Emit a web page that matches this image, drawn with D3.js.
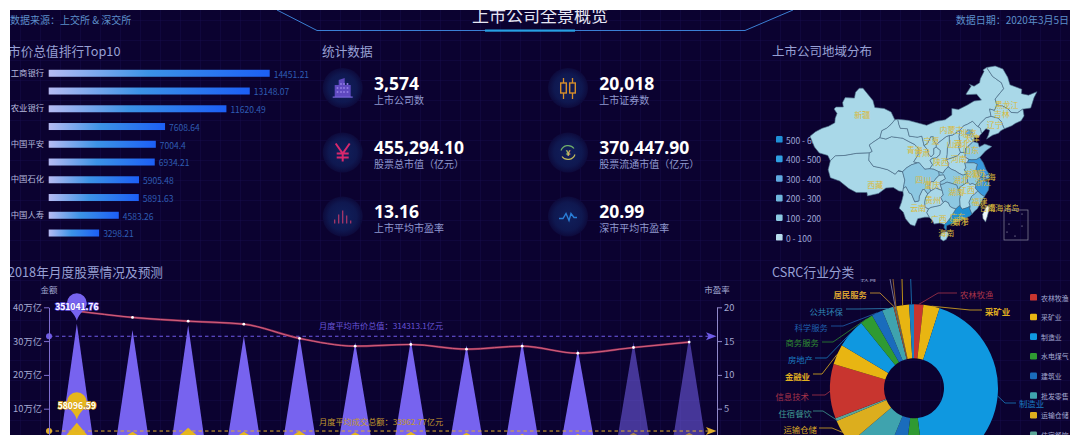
<!DOCTYPE html>
<html><head><meta charset="utf-8">
<script src="https://cdnjs.cloudflare.com/ajax/libs/d3/7.8.5/d3.min.js"></script>
<style>html,body{margin:0;padding:0;background:#fff;overflow:hidden}svg{display:block}
text{font-family:"Noto Sans CJK SC","Noto Sans",sans-serif}</style></head><body><svg id="c" width="1080" height="445"></svg>
<script>
// ---------- data ----------
const barCats=["工商银行","建设银行","农业银行","中国银行","中国平安","贵州茅台","中国石化","招商银行","中国人寿","中国石油"];
const barVals=[14451.21,13148.07,11620.49,7608.64,7004.4,6934.21,5905.48,5891.63,4583.26,3298.21];
const barTickCats=["工商银行","农业银行","中国平安","中国石化","中国人寿"];
const statVals=["3,574","20,018","455,294.10","370,447.90","13.16","20.99"];
const statLabels=["上市公司数","上市证券数","股票总市值\uFF08亿元\uFF09","股票流通市值\uFF08亿元\uFF09","上市平均市盈率","深市平均市盈率"];
const months=["1月","2月","3月","4月","5月","6月","7月","8月","9月","10月","11月","12月"];
const priceVals=[351041.76,333000,347000,315000,314000,296000,303000,288000,298000,275000,297000,313000];
const volumeVals=[58096.59,32000,44000,32000,35000,30000,32000,29000,25500,25500,29000,29000];
const peVals=[19.45,18.5,17.95,17.5,15.4,14.25,14.5,13.8,14.25,13.2,14.05,14.85];
const predictedFrom=10;
const priceMean=314313.1, volumeMean=33962.77;
const leftTicks=[100000,200000,300000,400000], rightTicks=[5,10,15,20];
const pieCats=["农林牧渔","采矿业","制造业","水电煤气","建筑业","批发零售","运输仓储","住宿餐饮","信息技术","金融业","房地产","商务服务","科学服务","公共环保","居民服务","教育","卫生","文化传媒","综合"];
const pieVals=[64,112,1540,143,151,270,173,20,375,138,202,89,77,79,10,5,5,88,33];
const legendCats=["农林牧渔","采矿业","制造业","水电煤气","建筑业","批发零售","运输仓储","住宿餐饮"];
const mapLegend=["500 - 600","400 - 500","300 - 400","200 - 300","100 - 200","0 - 100"];
const provinceCount={"广东":590,"浙江":450,"江苏":410,"北京":340,"上海":290,"山东":190,"福建":130,"四川":120,"湖南":105,"湖北":103,"安徽":102,"河南":80,"辽宁":72,"河北":56,"陕西":47,"新疆":50,"重庆":50,"天津":50,"吉林":41,"江西":40,"山西":38,"黑龙江":37,"云南":35,"广西":37,"甘肃":33,"内蒙古":25,"海南":30,"贵州":29,"西藏":18,"宁夏":13,"青海":12,"台湾":0,"香港":0,"澳门":0};
const provinceCapitals={"北京":[116.4,40.2],"天津":[117.2,39.1],"河北":[114.5,38],"山西":[112.5,37.9],"内蒙古":[111.7,40.8],"辽宁":[123.4,41.8],"吉林":[125.3,43.9],"黑龙江":[126.6,45.8],"上海":[121.5,31.2],"江苏":[118.8,32],"浙江":[120.2,30.3],"安徽":[117.3,31.9],"福建":[119.3,26.1],"江西":[115.9,28.7],"山东":[117,36.7],"河南":[113.7,34.8],"湖北":[114.3,30.6],"湖南":[113,28.2],"广东":[113.3,23.1],"广西":[108.3,22.8],"海南":[110.3,20],"重庆":[106.5,29.6],"四川":[104.1,30.7],"贵州":[106.7,26.6],"云南":[102.7,25],"西藏":[91.1,29.6],"陕西":[108.9,34.3],"甘肃":[103.8,36.1],"青海":[101.8,36.6],"宁夏":[106.3,38.5],"新疆":[87.6,43.8],"台湾":[121.5,25],"香港":[114.2,22.3],"澳门":[113.5,22.2],"南海诸岛":[125.7,25]};
const provinceShapes={
"新疆":[[73.5,39.4],[75,40.3],[76.8,41],[78.5,41.4],[80.2,42.1],[80.3,43],[80.8,44],[80,44.9],[80.5,45.3],[82.5,45.3],[82.3,46.2],[83,47.2],[85.5,47.1],[85.8,48.3],[86.8,49.1],[87.8,49.1],[89,48],[90.5,46.6],[91,45.2],[93.5,45],[95.4,44.3],[96.4,42.7],[95.4,41.8],[94.2,41],[92.9,40.5],[92.4,39.1],[90.6,38.2],[89.5,37.6],[90.3,36.3],[89.5,36],[86,35.9],[83,35.5],[80.3,35.4],[79,34.4],[78.3,35.5],[76,36],[74.7,37.2]],
"西藏":[[78.4,32.6],[79,34.4],[80.3,35.4],[83,35.5],[86,35.9],[89.5,36],[89.4,34.5],[90.6,33.3],[92.5,33],[94.5,32.6],[96.5,31.7],[97.3,32.4],[98.5,32.2],[99.1,30.5],[98.7,28.8],[98.6,28.2],[97.5,28.3],[96,29],[94,28.9],[92,27.8],[89,27.3],[88.9,28],[86,28],[84,28.8],[81.5,30.3],[79,31]],
"青海":[[89.5,36],[90.3,36.3],[89.5,37.6],[90.6,38.2],[92.4,39.1],[94,38.8],[95.5,39.3],[97.3,39.1],[98.5,39],[100.2,38.3],[101.8,37.7],[102.8,36.9],[102.7,35.6],[101.5,34.2],[102.6,34],[100.9,33.6],[99.6,33],[98.5,32.2],[97.3,32.4],[96.5,31.7],[94.5,32.6],[92.5,33],[90.6,33.3],[89.4,34.5]],
"甘肃":[[92.4,39.1],[92.9,40.5],[94.2,41],[95.4,41.8],[96.4,42.7],[97.2,42.8],[97.5,41.8],[97.9,41],[99.8,40.9],[100.3,39.4],[102.5,39.2],[103.7,39.4],[104.3,37.5],[105.2,36.7],[105.5,35.8],[106.2,35.2],[106.9,35.8],[106.9,36.9],[107.6,37.2],[108.7,36.5],[108.6,35.7],[107.6,35],[106.5,34.9],[105.9,34.5],[106.6,33.6],[105.8,32.8],[104.5,32.7],[103,34],[102.6,34],[101.5,34.2],[102.7,35.6],[102.8,36.9],[101.8,37.7],[100.2,38.3],[98.5,39],[97.3,39.1],[95.5,39.3],[94,38.8]],
"宁夏":[[106.1,39.3],[105.3,38],[104.3,37.5],[105.2,36.7],[105.5,35.8],[106.2,35.2],[106.9,35.8],[106.9,36.9],[107.6,37.2],[107.6,37.7],[106.8,38.7],[106.8,39.3]],
"内蒙古":[[97.2,42.8],[100,42.6],[102,42.2],[105,41.6],[107.5,42.4],[110,42.7],[111.8,43.7],[111.8,45],[113.6,44.8],[116,45.7],[117.8,46.5],[119.8,46.7],[118.5,47.9],[116,47.8],[115.6,47.9],[117,49.5],[116.5,49.9],[117.8,49.5],[119.3,50.2],[119.5,51],[120.5,52.5],[120.2,52.8],[121.2,53.3],[122.8,51.5],[125.2,50.2],[125.8,49],[124.9,48.2],[123.5,46.9],[124,45.7],[123.3,44.6],[122,44.9],[122.4,43.4],[121,43.1],[119.5,42],[118.9,41.3],[118.5,41.5],[117.4,42.4],[116,41.8],[115,41.5],[114,40.6],[112,39.6],[111.1,39.5],[110.3,39.3],[108.6,38.3],[107.6,37.7],[106.8,38.7],[106.8,39.3],[106.1,39.3],[105.3,38],[104.3,37.5],[103.7,39.4],[102.5,39.2],[100.3,39.4],[99.8,40.9],[97.9,41],[97.5,41.8]],
"黑龙江":[[121.2,53.3],[123.5,53.6],[125.6,53],[126.9,51.3],[127.5,49.8],[130.7,48.9],[130.6,48],[132.5,47.7],[134.8,48.4],[134,47.2],[133.1,45.1],[131.3,44.9],[131,44.9],[129.5,44.1],[127.8,44.2],[127,44.9],[125.5,45.5],[124,45.7],[123.5,46.9],[124.9,48.2],[125.8,49],[125.2,50.2],[122.8,51.5]],
"吉林":[[124,45.7],[125.5,45.5],[127,44.9],[127.8,44.2],[129.5,44.1],[131,44.9],[131.3,43.5],[130.5,42.5],[129,42],[128,41.5],[126,40.9],[125.7,41.3],[125.2,42.3],[124.4,43],[122.4,43.4],[122,44.9],[123.3,44.6]],
"辽宁":[[119.5,42],[121,43.1],[122.4,43.4],[124.4,43],[125.2,42.3],[125.7,41.3],[126,40.9],[125,40.5],[124.4,40],[122.8,39.6],[121.2,38.8],[121.7,39.7],[122,40.6],[121,40.9],[119.8,39.9],[119.5,41],[118.9,41.3]],
"河北":[[119.8,39.9],[118.9,39.2],[117.8,39.2],[117.8,38.5],[117.5,38.3],[116.9,37.8],[115.5,36.9],[115.4,36.1],[114.1,36.1],[113.6,37.2],[114,38],[113.7,39.3],[114,40.6],[115,41.5],[116,41.8],[117.4,42.4],[118.5,41.5],[118.9,41.3],[119.5,41]],
"北京":[[115.5,39.8],[116,40.7],[117.3,40.6],[117,39.8],[116.4,39.5]],
"天津":[[117.3,40.2],[117.8,39.2],[117.8,38.5],[117,38.8],[117,39.8]],
"山西":[[114,40.6],[113.7,39.3],[114,38],[113.6,37.2],[114.1,36.1],[113.5,35.5],[112.2,35.1],[110.3,34.6],[110.5,35.7],[110.6,37],[111.1,38],[111.1,39.5],[112,39.6]],
"陕西":[[111.1,39.5],[111.1,38],[110.6,37],[110.5,35.7],[110.3,34.6],[111,33.9],[110.8,33.2],[110,32.6],[109.4,31.9],[108.3,32.2],[106.9,32.7],[105.8,32.8],[106.6,33.6],[105.9,34.5],[106.5,34.9],[107.6,35],[108.6,35.7],[108.7,36.5],[107.6,37.2],[107.6,37.7],[108.6,38.3],[110.3,39.3]],
"山东":[[115.5,36.9],[116.9,37.8],[117.5,38.3],[118.9,38],[119.2,37.2],[120.7,37.8],[122.6,37.3],[120.9,36.4],[119.3,35.1],[118.5,34.7],[117.2,34.6],[116.4,34.7],[115.3,35.2],[115.4,36.1]],
"河南":[[114.1,36.1],[115.4,36.1],[115.3,35.2],[116.4,34.7],[116,34],[115.3,34],[115.6,33],[115.2,32.6],[115.9,31.8],[114.8,31.5],[113.7,31.9],[112.7,32.4],[111.7,32.7],[110.8,33.2],[111,33.9],[110.3,34.6],[112.2,35.1],[113.5,35.5]],
"江苏":[[116.4,34.7],[117.2,34.6],[118.5,34.7],[119.3,35.1],[120.3,34],[121,32.7],[121.9,31.7],[121,31.5],[120.9,31.1],[120.5,30.9],[119.6,31.1],[119,31.3],[118.8,32],[118.3,32.7],[118.7,33.7],[117.8,34],[116.9,34],[116,34]],
"安徽":[[116,34],[116.9,34],[117.8,34],[118.7,33.7],[118.3,32.7],[118.8,32],[119,31.3],[119.6,31.1],[118.9,30.3],[118.3,29.5],[117.3,29.8],[116.7,29.6],[116,30.1],[115.9,31.1],[115.9,31.8],[115.2,32.6],[115.6,33],[115.3,34]],
"上海":[[121,31.5],[121.9,31.7],[121.9,30.9],[121,30.7],[120.9,31.1]],
"浙江":[[119.6,31.1],[120.5,30.9],[120.9,31.1],[121,30.7],[120.3,30.4],[122,30],[121.7,28.5],[120.6,27.2],[119.7,27.6],[118.8,28.3],[118.1,28.9],[118.3,29.5],[118.9,30.3]],
"福建":[[118.8,28.3],[119.7,27.6],[120.6,27.2],[119.6,25.9],[118.7,24.7],[117.9,24.2],[117.2,23.6],[116.6,24.7],[116.7,25.2],[116.4,26],[117.1,27.2],[117.9,27.7]],
"江西":[[118.1,28.9],[118.8,28.3],[117.9,27.7],[117.1,27.2],[116.4,26],[116.7,25.2],[115.9,24.9],[114.6,24.6],[114,25.2],[113.9,26.6],[114.1,27.5],[113.6,28.5],[114,29.1],[115,29.6],[116,30.1],[116.7,29.6],[117.3,29.8],[118.3,29.5]],
"广东":[[116.6,24.7],[117.2,23.6],[116.6,23.2],[115,22.7],[113.6,22.2],[112,21.7],[110.4,21.3],[110.3,20.3],[109.7,20.9],[109.8,21.5],[110.7,22.2],[111.5,23],[112,23.6],[112.9,24.7],[113.9,25.4],[114,25.2],[114.6,24.6],[115.9,24.9],[116.7,25.2]],
"广西":[[112.9,24.7],[112,23.6],[111.5,23],[110.7,22.2],[109.8,21.5],[108.5,21.8],[107,21.6],[106.6,22.3],[105.7,23],[105,23.9],[105.5,24.7],[106.2,25],[107.5,25.2],[108.7,25.4],[109.5,26],[110,26.3],[110.9,25.9],[111.3,25.2],[112,24.9]],
"云南":[[105.5,24.7],[105,23.9],[105.7,23],[104.5,23],[102.6,22.7],[101.8,21.2],[100.6,21.5],[99.3,22.7],[98.7,24],[97.6,24.8],[98.2,26],[98.7,27.5],[98.6,28.2],[98.7,28.8],[99.4,29.2],[100.3,27.9],[100.9,27.7],[101.8,26.1],[102.9,26.3],[103,27.2],[103.9,28.6],[104.4,28.6],[105.3,27.7],[104.7,26.9],[104.5,26],[104.6,25]],
"四川":[[97.3,32.4],[98.5,32.2],[99.1,30.5],[98.7,28.8],[99.4,29.2],[100.3,27.9],[100.9,27.7],[101.8,26.1],[102.9,26.3],[103,27.2],[103.9,28.6],[104.4,28.6],[105.3,27.7],[106.1,28.3],[105.6,29.3],[106.2,30.2],[106.9,30.2],[107.6,30.9],[108.4,31.5],[108.3,32.2],[106.9,32.7],[105.8,32.8],[104.5,32.7],[103,34],[102.6,34],[100.9,33.6],[99.6,33],[98.5,32.2]],
"重庆":[[105.6,29.3],[106.1,28.3],[107.5,28.9],[108.4,28.6],[109.2,28.4],[108.7,29.6],[108.6,30.1],[110.1,30.8],[109.6,31.6],[108.4,31.5],[107.6,30.9],[106.9,30.2],[106.2,30.2]],
"贵州":[[105.3,27.7],[106.1,28.3],[107.5,28.9],[108.4,28.6],[109.2,28.4],[109.5,27.5],[108.8,27],[109.5,26],[108.7,25.4],[107.5,25.2],[106.2,25],[105.5,24.7],[104.6,25],[104.5,26],[104.7,26.9]],
"湖北":[[108.4,31.5],[109.6,31.6],[110.1,30.8],[108.6,30.1],[108.7,29.6],[109.5,29.7],[110.5,30.1],[111.9,29.8],[113.1,29.5],[113.6,28.5],[114,29.1],[115,29.6],[116,30.1],[115.9,31.1],[115.9,31.8],[114.8,31.5],[113.7,31.9],[112.7,32.4],[111.7,32.7],[110.8,33.2],[110,32.6],[109.4,31.9],[108.3,32.2]],
"湖南":[[108.7,29.6],[109.2,28.4],[109.5,27.5],[108.8,27],[109.5,26],[110,26.3],[110.9,25.9],[111.3,25.2],[112,24.9],[112.9,24.7],[113.9,25.4],[114,25.2],[113.9,26.6],[114.1,27.5],[113.6,28.5],[113.1,29.5],[111.9,29.8],[110.5,30.1],[109.5,29.7]],
"海南":[[108.7,19.3],[109.2,19.9],[110.5,20.1],[111,19.6],[110.3,18.5],[109.5,18.2],[108.7,18.6]],
"台湾":[[121.5,25.3],[122,25],[121.4,23.2],[120.9,22],[120.2,22.8],[120.1,23.6],[121,25]]
};
// ---------- layout / style ----------
const svg=d3.select("#c"), W=1080,H=445;
const defs=svg.append("defs");
const pat=defs.append("pattern").attr("id","grid").attr("width",20).attr("height",20).attr("patternUnits","userSpaceOnUse");
pat.append("path").attr("d","M20 0H0V20").attr("fill","none").attr("stroke","#160b4a").attr("stroke-width",1);
const barG=defs.append("linearGradient").attr("id","barGrad");
barG.append("stop").attr("offset","0%").attr("stop-color","#b6bbf2");
barG.append("stop").attr("offset","45%").attr("stop-color","#3c93e6");
barG.append("stop").attr("offset","100%").attr("stop-color","#1c5ff6");
const iconG=defs.append("radialGradient").attr("id","iconBg");
iconG.append("stop").attr("offset","0%").attr("stop-color","#11205c");
iconG.append("stop").attr("offset","70%").attr("stop-color","#0f1850");
iconG.append("stop").attr("offset","100%").attr("stop-color","#0d0a3c");
svg.append("rect").attr("width",W).attr("height",H).attr("fill","#0b0230");
svg.append("rect").attr("width",W).attr("height",H).attr("fill","url(#grid)");
const txt=(g,x,y,s,size,fill,anchor="start",weight=400)=>g.append("text").attr("x",x).attr("y",y).attr("dominant-baseline","central").attr("text-anchor",anchor).attr("font-size",size).attr("font-weight",weight).attr("fill",fill).text(s);

// header
svg.append("path").attr("d","M277,10L317,30.5H745L793,10").attr("fill","none").attr("stroke","#3b7fd4").attr("stroke-width",1);
svg.append("rect").attr("x",485).attr("y",29.5).attr("width",90).attr("height",2.2).attr("fill","#27a0e2");
txt(svg,540,14.5,"上市公司全景概览",17,"#e6e7f5","middle");
txt(svg,10,19,"数据来源\uFF1A上交所 & 深交所",10,"#5d8fca");
txt(svg,1069,19,"数据日期\uFF1A2020年3月5日",10,"#5d8fca","end");
const titleC="#98a0d4";
txt(svg,8,50,"市价总值排行Top10",12.7,titleC);
txt(svg,322,50,"统计数据",12.7,titleC);
txt(svg,772,50,"上市公司地域分布",12.5,titleC);
txt(svg,8,271.5,"2018年月度股票情况及预测",12.7,titleC);
txt(svg,772,271.5,"CSRC行业分类",12.7,titleC);

// top10 bars
const bx=d3.scaleLinear().domain([0,14451.21]).range([48.7,269.7]);
const by=d3.scaleBand().domain(barCats).range([64.4,241.9]);
const bg=svg.append("g");
bg.selectAll("rect").data(barVals).join("rect").attr("x",bx(0)).attr("y",(d,i)=>by(barCats[i])+by.bandwidth()/2-3.5)
 .attr("width",d=>bx(d)-bx(0)).attr("height",7).attr("fill","url(#barGrad)");
bg.selectAll("text.v").data(barVals).join("text").attr("class","v").attr("x",d=>bx(d)+4).attr("y",(d,i)=>by(barCats[i])+by.bandwidth()/2+.3)
 .attr("dominant-baseline","central").attr("font-size",8.5).attr("fill","#2f5db4").text(d=>d);
const bAxis=svg.append("g").attr("transform","translate(44,0)").call(d3.axisLeft(by).tickValues(barTickCats).tickSize(0).tickPadding(0));
bAxis.select(".domain").remove();
bAxis.selectAll("text").attr("font-size",8.3).attr("fill","#b4b8dc").style("font-family",'"Noto Sans CJK SC"');

// stats
const colX=[342.7,568], rowY=[88,152.5,216.5];
const iconDraw=[
 g=>{g.append("path").attr("d","M-8,9V-3H-4V-8L2,-10V-3H8V9Z").attr("fill","#5f49c0");
     for(const x of [-6,-2.5,0.5,4])for(const y of [-5,-1,3]) if(!(x<-3&&y<-3)) g.append("rect").attr("x",x).attr("y",y).attr("width",1.6).attr("height",2).attr("fill","#8d78e0");
     g.append("rect").attr("x",-10).attr("y",8.5).attr("width",20).attr("height",1.2).attr("fill","#7a66dc");},
 g=>{for(const x of [-4.5,4.5]){g.append("path").attr("d",`M${x},-10V11`).attr("stroke","#d68e2a").attr("stroke-width",1.3);
     g.append("rect").attr("x",x-2.8).attr("y",-5).attr("width",5.6).attr("height",10).attr("fill","#0f1a52").attr("stroke","#d68e2a").attr("stroke-width",1.4);}},
 g=>{g.append("path").attr("d","M-7,-9L0,1L7,-9M0,1V9M-6,1H6M-6,5H6").attr("fill","none").attr("stroke","#d8286c").attr("stroke-width",2);},
 g=>{g.append("path").attr("d","M-7,-2A7.5,7.5 0 0 1 6,-4").attr("fill","none").attr("stroke","#6fae6a").attr("stroke-width",1.2);
     g.append("path").attr("d","M7,2A7.5,7.5 0 0 1 -6,4").attr("fill","none").attr("stroke","#c4bc5a").attr("stroke-width",1.2);
     txt(g,0,0,"¥",8,"#d6c668","middle",700);},
 g=>{[[-8,4],[-4,9],[0,13],[4,8],[8,3]].forEach(([x,h])=>g.append("rect").attr("x",x-.6).attr("y",7-h).attr("width",1.2).attr("height",h).attr("fill","#b2386a"));},
 g=>{g.append("path").attr("d","M-9,2L-5,2L-2,-3L1,4L3,-3L6,1L9,1").attr("fill","none").attr("stroke","#2a7fd8").attr("stroke-width",1.4);}
];
statVals.forEach((v,i)=>{
 const col=i%2,row=Math.floor(i/2),cx=colX[col],cy=rowY[row];
 const g=svg.append("g").attr("transform",`translate(${cx},${cy})`);
 g.append("circle").attr("r",20).attr("fill","url(#iconBg)");
 iconDraw[i](g);
 txt(svg,cx+31.3,cy-5.5,v,17.5,"#ffffff","start",700).style("font-family",'"Open Sans","Noto Sans CJK SC"');
 txt(svg,cx+31.3,cy+11,statLabels[i],10,"#8f98cf");
});

// map legend (underneath the map)
const mapColors=["#1f8fd6","#2f9fe2","#5fa9e0","#6fb6dc","#8ccae2","#b9dded"];
mapLegend.forEach((s,i)=>{
 const y=139.3+i*19.6;
 svg.append("rect").attr("x",776).attr("y",y-3.3).attr("width",6.6).attr("height",6.6).attr("rx",1.2).attr("fill",mapColors[i]);
 txt(svg,786,y+.2,s,8.5,"#9ea6d6");
});
// map: plain lon/lat scales, y stretched by 1/0.75 as in the reference
const lonS=d3.scaleLinear().domain([73.5,134.8]).range([810,1037]);
const latS=d3.scaleLinear().domain([20,53.6]).range([232,66]);
const projection=p=>[lonS(p[0]),latS(p[1])];
const mapFill=d3.scaleThreshold().domain([100,200,300,400,500]).range(["#a9d8e8","#8dc8e2","#72b6dc","#5aa8e0","#3a98dc","#1f8fd2"]);
const ordered=Object.keys(provinceShapes);
const mapG=svg.append("g");
mapG.selectAll("path").data(ordered).join("path")
 .attr("d",n=>d3.line()(provinceShapes[n].concat([provinceShapes[n][0]]).map(projection))+"Z")
 .attr("fill",n=>n==="台湾"?"#eef7fb":mapFill(provinceCount[n])).attr("stroke","#4a6c84").attr("stroke-width",.6).attr("stroke-linejoin","round");
const labelG=svg.append("g");
Object.keys(provinceCapitals).forEach(n=>{const p=projection(provinceCapitals[n]);txt(labelG,p[0],p[1],n,8,"#d9ba3a","middle");});
svg.append("rect").attr("x",1004).attr("y",210).attr("width",24).attr("height",30).attr("fill","none").attr("stroke","#8b899c").attr("stroke-width",.7);
const islets=[[1010,213],[1022,214],[1009,224],[1022,226],[1007,232],[1015,236]];
svg.append("g").selectAll("circle").data(islets).join("circle").attr("cx",d=>d[0]).attr("cy",d=>d[1]).attr("r",.5).attr("fill","#dde");

// combo chart
const x=d3.scaleBand().domain(months).range([49,717]);
const yL=d3.scaleLinear().domain([0,400000]).range([442.5,307.3]);
const yR=d3.scaleLinear().domain([0,20]).range([442.5,307.3]);
const cg=svg.append("g");
const cx=m=>x(m)+x.bandwidth()/2;
const bw=x.bandwidth()*.6;
cg.selectAll("path.tri").data(priceVals).join("path").attr("class","tri")
 .attr("d",(d,i)=>`M${cx(months[i])-bw/2},${yL(0)}L${cx(months[i])},${yL(d)}L${cx(months[i])+bw/2},${yL(0)}Z`)
 .attr("fill","#7763ef").attr("opacity",(d,i)=>i>=predictedFrom?.55:1);
cg.selectAll("path.dia").data(volumeVals).join("path").attr("class","dia")
 .attr("d",(d,i)=>{const c=cx(months[i]),h=yL(0)-yL(d);return `M${c-bw/2},${yL(0)}L${c},${yL(d)}L${c+bw/2},${yL(0)}L${c},${yL(0)+h}Z`})
 .attr("fill","#e6b71c").attr("opacity",(d,i)=>i>=predictedFrom?.6:1);
// mean lines
const meanLine=(v,col,textCol,label,labelY)=>{
 const y=yL(v);
 cg.append("line").attr("x1",49).attr("x2",712).attr("y1",y).attr("y2",y).attr("stroke",col).attr("stroke-width",1).attr("stroke-dasharray","3.5 3");
 cg.append("circle").attr("cx",49).attr("cy",y).attr("r",3).attr("fill",col);
 cg.append("path").attr("d",`M706,${y-4}L716.5,${y}L706,${y+4}L708.5,${y}Z`).attr("fill",col);
 txt(cg,319,labelY,label,8.2,textCol);
};
meanLine(priceMean,"#6f5be6","#6a55d8","月度平均市价总值\uFF1A"+priceMean+"亿元",325);
meanLine(volumeMean,"#e0ae2c","#c49a2c","月度平均成交总额\uFF1A"+volumeMean+"亿元",420.5);
// pe line
const ln=d3.line().x((d,i)=>cx(months[i])).y(d=>yR(d)).curve(d3.curveMonotoneX);
cg.append("path").attr("d",ln(peVals)).attr("fill","none").attr("stroke","#8a2d52").attr("stroke-width",2.2);
cg.append("path").attr("d",ln(peVals)).attr("fill","none").attr("stroke","#d4607e").attr("stroke-width",1);
cg.selectAll("circle.pe").data(peVals).join("circle").attr("class","pe").attr("cx",(d,i)=>cx(months[i])).attr("cy",d=>yR(d)).attr("r",1.4).attr("fill","#fff");
// pins
const pin=(m,v,fill,label,stroke)=>{
 const c=cx(m),tip=yL(v)-3,cy=tip-17.5;
 cg.append("path").attr("d",`M${c},${tip}C${c-2},${tip-8} ${c-10},${cy+6} ${c-10},${cy}A10,10 0 1 1 ${c+10},${cy}C${c+10},${cy+6} ${c+2},${tip-8} ${c},${tip}Z`).attr("fill",fill);
 txt(cg,c,cy+2.5,label,8.6,"#fff","middle",700).attr("stroke",stroke).attr("stroke-width",1.4).attr("paint-order","stroke");
};
pin(months[0],priceVals[0],"#7763ef","351041.76","#6a55e0");
pin(months[0],volumeVals[0],"#e6b71c","58096.59","#dca81a");
// axes
const fmtL=d=>(d/10000)+"万亿";
const al=svg.append("g").attr("transform","translate(49,0)").call(d3.axisLeft(yL).tickValues(leftTicks).tickFormat(fmtL).tickSize(5).tickSizeOuter(0).tickPadding(2));
const ar=svg.append("g").attr("transform","translate(717,0)").call(d3.axisRight(yR).tickValues(rightTicks).tickSize(5).tickSizeOuter(0).tickPadding(2));
[[al,"#7f6fd0"],[ar,"#8f88c8"]].forEach(([a,c])=>{a.selectAll(".domain,line").attr("stroke",c);a.selectAll("text").attr("font-size",9.3).attr("fill","#a4a9d2").style("font-family",'"Noto Sans CJK SC"');});
txt(svg,49,289,"金额",8.5,"#a4a9d2","middle");
txt(svg,717,289,"市盈率",8.5,"#a4a9d2","middle");

// donut
const pieColors=["#c8352f","#e8b512","#0f98e0","#2f9a32","#1a6cbc","#3fa3ae","#dcae1e","#5aa598","#c8352f","#e8b512","#0f98e0","#2f9a32","#1a6cbc","#3fa3ae","#a0522d","#5aa598","#b0762a","#e8b512","#1a80c0"];
const labelColors={"农林牧渔":"#a8344a","采矿业":"#e0b020","制造业":"#1a7cc0","信息技术":"#a8344a","住宿餐饮":"#3f9a92","运输仓储":"#d8a824","金融业":"#e0b020","房地产":"#1a7cc0","商务服务":"#2f8a32","科学服务":"#1f5fae","公共环保":"#2e86b8","居民服务":"#d8a030","教育":"#8a8ab0"};
const leaders={ // [elbowX,elbowY,endX,textX,textY,anchor,bold]
 "农林牧渔":[938,293,957,960,294,"start"],"采矿业":[970,310,982,985,310.7,"start",1],"制造业":[1005,403,1016,1019,403,"start"],
 "住宿餐饮":[823,411,813,812,413.3,"end"],"运输仓储":[832,428,819,817,429,"end"],"信息技术":[825,395,812,809,395.7,"end"],
 "金融业":[822,374,813,810,375.7,"end",1],"房地产":[826.7,358,815,813,359,"end"],"商务服务":[833,342,822,819,342.3,"end"],
 "科学服务":[843,326,831,828,326.7,"end"],"公共环保":[858,309,846,843,310.7,"end"],"居民服务":[880,293,870,867,294,"end",1],
 "教育":[890,279,890,877,277,"end"],"卫生":[893,279,893,0,0,"none"],"文化传媒":[902,279,902,0,0,"none"],"综合":[910.7,279,910.7,0,0,"none"]};
defs.append("clipPath").attr("id","pieClip").append("rect").attr("x",760).attr("y",279).attr("width",320).attr("height",170);
const pieG=svg.append("g").attr("clip-path","url(#pieClip)");
const pc=[914,388.3], R=84;
const arcs=d3.pie().sort(null)(pieVals);
const arcGen=d3.arc().innerRadius(30).outerRadius(R);
const sliceG=pieG.append("g").attr("transform",`translate(${pc})`);
sliceG.selectAll("path").data(arcs).join("path").attr("d",arcGen).attr("fill",(d,i)=>pieColors[i]);
arcs.forEach((a,i)=>{
 const n=pieCats[i],L=leaders[n]; if(!L)return;
 const mid=(a.startAngle+a.endAngle)/2, sx=pc[0]+R*Math.sin(mid), sy=pc[1]-R*Math.cos(mid);
 pieG.append("polyline").attr("points",`${sx},${sy} ${L[0]},${L[1]} ${L[2]},${L[1]}`).attr("fill","none").attr("stroke",labelColors[n]||pieColors[i]).attr("stroke-width",.8);
 if(L[5]!=="none") txt(pieG,L[3],L[4],n,8.4,labelColors[n],L[5],L[6]?700:400);
});
// pie legend
legendCats.forEach((s,i)=>{
 const y=297.3+i*19.65, col=pieColors[pieCats.indexOf(s)];
 svg.append("rect").attr("x",1030).attr("y",y-3.3).attr("width",7).attr("height",6.6).attr("rx",1.2).attr("fill",col);
 txt(svg,1041,y+.2,s,6.9,"#a4a9d2");
});
// white frame of the picture
[[0,0,W,10],[0,435,W,10],[0,0,10,H],[1070,0,10,H]].forEach(r=>svg.append("rect").attr("x",r[0]).attr("y",r[1]).attr("width",r[2]).attr("height",r[3]).attr("fill","#fff"));
</script></body></html>
